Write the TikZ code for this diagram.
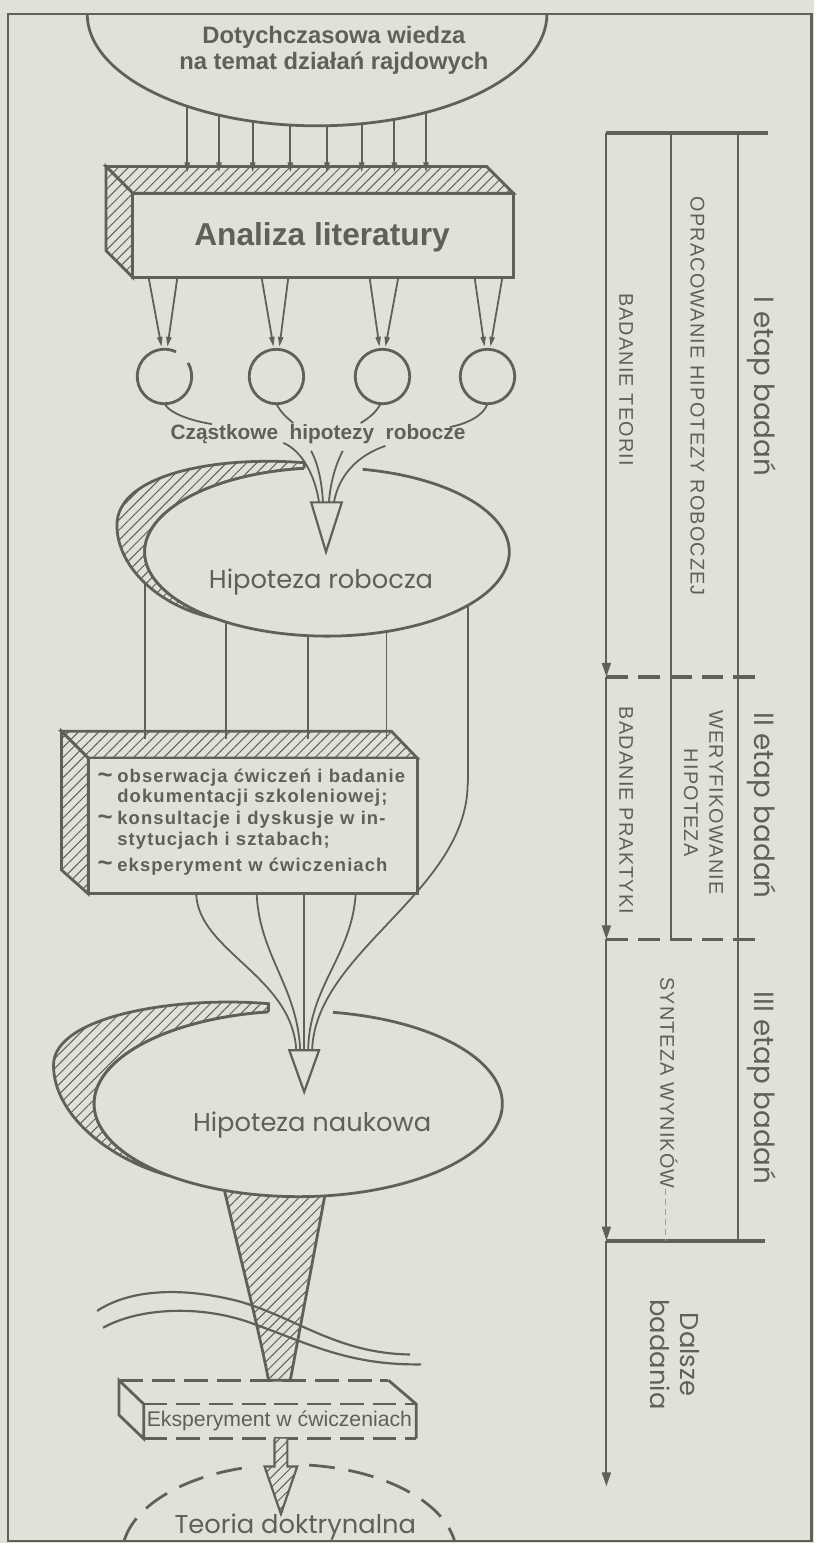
\documentclass[tikz,border=0pt]{standalone}
\usepackage{fontspec}
\setmainfont{Liberation Sans}
\newfontfamily\geofont{Poppins}
\newfontfamily\capsfont[LetterSpace=6]{Liberation Sans}
\newfontfamily\itemfont[LetterSpace=6]{Liberation Sans}
\usetikzlibrary{arrows.meta,patterns.meta}
\definecolor{paper}{RGB}{223,226,216}
\definecolor{ink}{RGB}{94,96,90}
\tikzset{
  outline/.style={draw=ink,line width=1.4pt},
  conn/.style={draw=ink,line width=0.9pt},
  hatch/.style={preaction={fill=paper},pattern={Lines[angle=45,distance=3.6pt,line width=0.5pt]},pattern color=ink},
  smallarrow/.style={-{Triangle[length=5pt,width=2.6pt]}},
  stagearrow/.style={-{Triangle[length=7pt,width=4.5pt]}},
  stageline/.style={draw=ink,line width=1pt},
  stagebar/.style={draw=ink,line width=2pt},
  stagedash/.style={draw=ink,line width=1.8pt,dash pattern=on 11pt off 5pt},
  boxdash/.style={draw=ink,line width=1.4pt,dash pattern=on 12pt off 4.5pt},
  title/.style={text=ink,font=\bfseries\fontsize{12}{13}\selectfont,align=center},
  bubble/.style={text=ink,font=\geofont\fontsize{13}{15}\selectfont},
  item/.style={text=ink,anchor=west,inner sep=0pt,align=left,
    font=\itemfont\bfseries\fontsize{9.3}{10.4}\selectfont},
  wave/.style={text=ink,anchor=center,inner sep=0pt,font=\bfseries\fontsize{13}{13}\selectfont},
  stage/.style={text=ink,rotate=-90,font=\geofont\fontsize{14}{17}\selectfont},
  column/.style={text=ink,rotate=-90,align=center,font=\capsfont\fontsize{10}{12.8}\selectfont}
}
\begin{document}
\begin{tikzpicture}[x=0.5pt,y=-0.5pt]
\fill[paper] (0,0) rectangle (822,1557);
\draw[ink,line width=1.2pt] (8,14) rectangle (819,1555);

% dotychczasowa wiedza
\draw[outline] (552,14) arc[start angle=0,end angle=180,x radius=232,y radius=113];
\node[title] (wiedza) at (337,51) {Dotychczasowa wiedza\\na temat działań rajdowych};

% analiza literatury
\draw[outline,hatch] (107,168) -- (491,168) -- (518,195) -- (134,195) -- cycle;
\draw[outline,hatch] (107,168) -- (134,195) -- (134,280) -- (107,253) -- cycle;
\draw[outline,fill=paper] (134,195) rectangle (518,280);
\node[title,font=\bfseries\fontsize{16}{18}\selectfont] (analiza) at (325,240) {Analiza literatury};
\foreach \ax in {189,221,255,293,330,365,398,430}{
  \pgfmathsetmacro\ay{14+113*sqrt(1-((\ax-320)/232)^2)}
  \draw[conn,smallarrow] (\ax,\ay) -- (\ax,174);
}

% czastkowe hipotezy
\foreach \lx/\rx/\cx in {150/179/166,264/291/279,373/402/386,479/507/492}{
  \draw[conn,smallarrow] (\lx,280) -- (\cx-3,350);
  \draw[conn,smallarrow] (\rx,280) -- (\cx+3,350);
}
\draw[outline] (166,380) ++(-30:27.5) arc[start angle=-30,end angle=295,radius=27.5];
\draw[outline] (279,380) circle[radius=27.5];
\draw[outline] (386,380) circle[radius=27.5];
\draw[outline] (492,380) circle[radius=27.5];
\draw[conn] (166,407.5) .. controls (172,418) and (195,425) .. (214,428);
\draw[conn] (279,407.5) .. controls (283,416) and (290,422) .. (296,427);
\draw[conn] (384,407.5) .. controls (380,416) and (372,422) .. (364,427);
\draw[conn] (492,407.5) .. controls (488,420) and (470,428) .. (454,431);
\node[title,font=\bfseries\fontsize{10.5}{12}\selectfont] (czastkowe) at (321,438) {Cząstkowe\ \ hipotezy\ \ robocze};

% box 2 (drawn before the lines)
\draw[outline,hatch] (62,738) -- (395,738) -- (421,765) -- (89,765) -- cycle;
\draw[outline,hatch] (62,738) -- (89,765) -- (89,902) -- (62,878) -- cycle;
\draw[outline,fill=paper] (89,765) rectangle (421,902);
\foreach \lx in {146,228,311,390}
  \draw[conn] (\lx,557) -- (\lx,746);
\coordinate (bend) at (472,790);
\draw[conn] (472,557) -- (bend);

% hipoteza robocza
\draw[outline,hatch] (307,467) .. controls (220,460) and (118,478) .. (118,530)
  .. controls (118,572) and (160,612) .. (216.7,624)
  arc[start angle=128,end angle=262.8,x radius=184,y radius=85] -- cycle;
\fill[paper] (330,557) ellipse[x radius=184,y radius=85];
\draw[outline] (330,557) ++(281.3:184 and 85) arc[start angle=281.3,end angle=622.8,x radius=184,y radius=85];
\draw[conn] (286,447) .. controls (305,455) and (318,480) .. (322,507);
\draw[conn] (314,455) .. controls (322,470) and (325,490) .. (326,507);
\draw[conn] (346,455) .. controls (338,470) and (333,490) .. (332,507);
\draw[conn] (389,450) .. controls (360,460) and (342,480) .. (337,507);
\draw[conn,line width=1.1pt,fill=paper] (314,507) -- (345,507) -- (329,557) -- cycle;
\node[bubble] (robocza) at (324,587) {Hipoteza robocza};

\node[wave] (til1) at (106,785) {\textasciitilde};
\node[item] (obserwacja) at (118,795) {obserwacja ćwiczeń i badanie\\dokumentacji szkoleniowej;};
\node[wave] (til2) at (106,828) {\textasciitilde};
\node[item] (konsultacje) at (118,838) {konsultacje i dyskusje w in-\\stytucjach i sztabach;};
\node[wave] (til3) at (106,874) {\textasciitilde};
\node[item] (eksperyment1) at (118,875) {eksperyment w ćwiczeniach};

% hipoteza naukowa
\draw[outline,hatch] (225,1195) .. controls (245,1280) and (262,1345) .. (271,1393) -- (293,1393) -- (330,1195) -- cycle;
\draw[outline,hatch] (271,1013) .. controls (180,1005) and (54,1025) .. (54,1075)
  .. controls (54,1125) and (110,1170) .. (171,1186.7)
  arc[start angle=129.1,end angle=261.6,x radius=206,y radius=93.7] -- cycle;
\fill[paper] (301,1114) ellipse[x radius=206,y radius=93.7];
\draw[outline] (301,1114) ++(279.8:206 and 93.7) arc[start angle=279.8,end angle=621.6,x radius=206,y radius=93.7];
\draw[conn] (198,902) .. controls (200,960) and (295,985) .. (299,1060);
\draw[conn] (259,902) .. controls (262,965) and (300,995) .. (303,1060);
\draw[conn] (307,902) -- (307,1060);
\draw[conn] (359,902) .. controls (355,965) and (312,995) .. (311,1060);
\draw[conn] (bend) .. controls (472,900) and (318,960) .. (315,1060);
\draw[conn,line width=1.1pt,fill=paper] (292,1060) -- (322,1060) -- (307,1102) -- cycle;
\node[bubble] (naukowa) at (315,1135) {Hipoteza naukowa};

% przerwa
\draw[ink,line width=1.1pt] (98,1323) .. controls (130,1302) and (180,1298) .. (240,1313) .. controls (300,1330) and (340,1366) .. (414,1367);
\draw[ink,line width=1.1pt] (104,1340) .. controls (140,1320) and (200,1317) .. (250,1334) .. controls (310,1355) and (350,1378) .. (425,1377);

% eksperyment
\fill[paper] (145,1417) rectangle (420,1452);
\draw[outline,fill=paper] (145,1417) -- (120,1393) -- (120,1428) -- (145,1452) -- cycle;
\draw[outline] (392,1393) -- (420,1417) -- (420,1452);
\draw[boxdash] (120,1393) -- (392,1393);
\draw[boxdash] (145,1417) -- (420,1417);
\draw[boxdash] (145,1452) -- (420,1452);
\node[text=ink,font=\fontsize{10.7}{12}\selectfont] (eksperyment) at (282,1434) {Eksperyment w ćwiczeniach};
\draw[conn,line width=1.1pt,hatch] (277,1452) -- (277,1480) -- (267,1480) -- (283.5,1528) -- (300,1480) -- (290,1480) -- (290,1452);

% teoria doktrynalna
\draw[outline,dash pattern=on 13pt off 7pt] (292,1570) ++(189.4:169 and 92) arc[start angle=189.4,end angle=257.4,x radius=169,y radius=92];
\draw[outline,dash pattern=on 13pt off 7pt] (292,1570) ++(276.8:169 and 92) arc[start angle=276.8,end angle=350.6,x radius=169,y radius=92];
\node[bubble] (teoria) at (298,1541) {Teoria doktrynalna};

% etapy
\draw[stagebar] (612,134) -- (775,134);
\draw[stageline] (677,134) -- (677,948);
\draw[stageline] (745,134) -- (745,1252);
\draw[stageline,stagearrow] (612,134) -- (612,683);
\draw[stageline,stagearrow] (612,683) -- (612,948);
\draw[stageline,stagearrow] (612,948) -- (612,1252);
\draw[stageline,stagearrow] (612,1252) -- (612,1500);
\draw[stagedash] (612,683) -- (772,683);
\draw[stagedash] (612,948) -- (772,948);
\draw[stagebar] (612,1252) -- (772,1252);
\draw[ink!60,line width=0.4pt,dash pattern=on 3pt off 2pt] (672,1200) -- (672,1252);
\node[stage] (etap1) at (769,390) {I etap badań};
\node[stage] (etap2) at (769,813) {II etap badań};
\node[stage] (etap3) at (769,1098) {III etap badań};
\node[column] (opracowanie) at (704,400) {OPRACOWANIE HIPOTEZY ROBOCZEJ};
\node[column] (teorii) at (632,383) {BADANIE TEORII};
\node[column] (praktyki) at (632,818) {BADANIE PRAKTYKI};
\node[column] (weryfikowanie) at (710,810) {WERYFIKOWANIE\\HIPOTEZA};
\node[column] (synteza) at (675,1093) {SYNTEZA WYNIKÓW};
\node[stage,align=center,font=\geofont\fontsize{13}{15}\selectfont] (dalsze) at (681,1367) {Dalsze\\badania};
\end{tikzpicture}
\end{document}
